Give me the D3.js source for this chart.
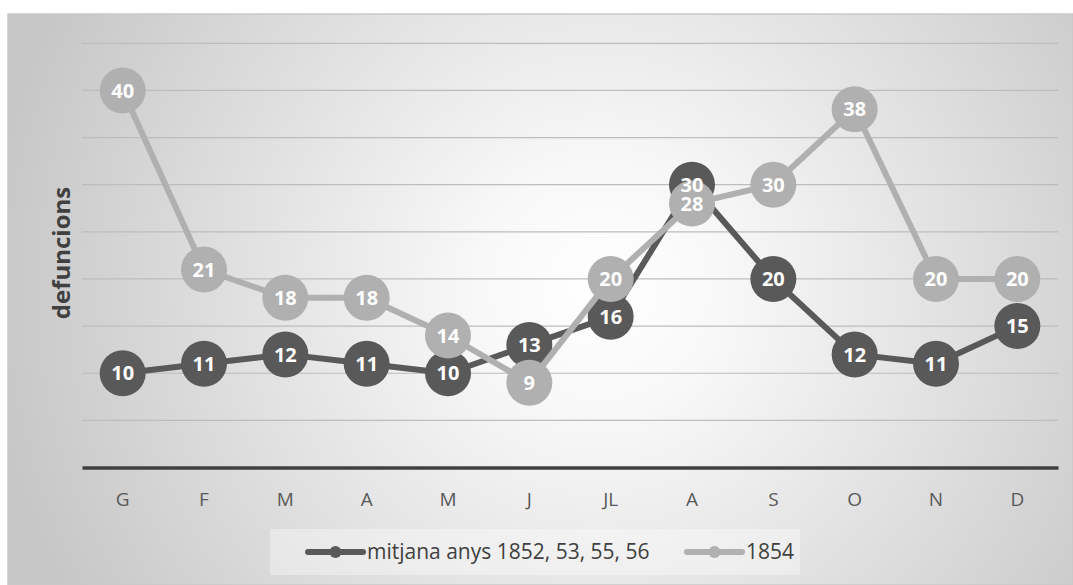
<!DOCTYPE html>
<html>
<head>
<meta charset="utf-8">
<script src="https://cdn.jsdelivr.net/npm/d3@7"></script>
<style>
  body { margin: 0; background: #fff; }
  svg { display: block; }
  text { font-family: "Open Sans", "Liberation Sans", sans-serif; }
</style>
</head>
<body>
<svg id="viz" width="1073" height="585"></svg>
<script>
"use strict";
// months (Catalan initials)
const months = ["G", "F", "M", "A", "M", "J", "JL", "A", "S", "O", "N", "D"];
const mitjana = [10, 11, 12, 11, 10, 13, 16, 30, 20, 12, 11, 15];
const any1854 = [40, 21, 18, 18, 14, 9, 20, 28, 30, 38, 20, 20];
const gridTicks = [5, 10, 15, 20, 25, 30, 35, 40, 45];
const seriesNames = ["mitjana anys 1852, 53, 55, 56", "1854"];

const svg = d3.select("#viz");
const w = 1073, h = 585;
const margin = { top: 43.3, left: 82, bottom: 117.5, right: 15 };

// background with radial gradient
let defs = svg.append("defs");
let grad = defs.append("radialGradient")
    .attr("id", "bg")
    .attr("gradientUnits", "userSpaceOnUse")
    .attr("cx", 600).attr("cy", 290).attr("r", 620);
grad.append("stop").attr("offset", "0%").attr("stop-color", "#ffffff");
grad.append("stop").attr("offset", "20%").attr("stop-color", "#f8f8f8");
grad.append("stop").attr("offset", "100%").attr("stop-color", "#c6c6c6");

svg.append("rect")
    .attr("x", 8).attr("y", 14)
    .attr("width", w - 8).attr("height", h - 14)
    .attr("fill", "url(#bg)")
    .attr("stroke", "#c9c9c9")
    .attr("stroke-width", 1.5);

let xScale = d3.scaleBand()
    .domain(months.map((d, i) => `${i}`))
    .range([margin.left, w - margin.right]);
let yScale = d3.scaleLinear()
    .domain([0, 45])
    .range([h - margin.bottom, margin.top]);
let cx = (i) => xScale(`${i}`) + xScale.bandwidth() / 2;

// gridlines
svg.append("g").attr("class", "grid")
    .selectAll("line")
    .data(gridTicks)
    .enter().append("line")
    .attr("x1", margin.left).attr("x2", w - margin.right)
    .attr("y1", d => yScale(d)).attr("y2", d => yScale(d))
    .attr("stroke", "#bdbdbd")
    .attr("stroke-width", 1.2);

// x axis
let xAxis = d3.axisBottom(xScale)
    .tickFormat((d, i) => months[i])
    .tickSize(0)
    .tickPadding(25);
let gx = svg.append("g")
    .attr("class", "x axis")
    .attr("transform", `translate(0, ${yScale(0)})`)
    .call(xAxis);
gx.select(".domain").attr("stroke", "#404040").attr("stroke-width", 3.5);
gx.selectAll("text")
    .attr("fill", "#595959")
    .style("font-size", "19px")
    .style("font-family", "'Open Sans', sans-serif");

// y axis title
svg.append("text")
    .attr("transform", `translate(70, 253) rotate(-90)`)
    .attr("text-anchor", "middle")
    .attr("fill", "#404040")
    .style("font-size", "24px")
    .style("font-weight", "bold")
    .text("defuncions");

const colors = ["#595959", "#b0b0b0"];
const allSeries = [mitjana, any1854];

let line = d3.line()
    .x((d, i) => cx(i))
    .y(d => yScale(d));

allSeries.forEach((vals, k) => {
    svg.append("path")
        .datum(vals)
        .attr("d", line)
        .attr("fill", "none")
        .attr("stroke", colors[k])
        .attr("stroke-width", 6)
        .attr("stroke-linejoin", "round");
    svg.append("g")
        .selectAll("circle")
        .data(vals)
        .enter().append("circle")
        .attr("cx", (d, i) => cx(i))
        .attr("cy", d => yScale(d))
        .attr("r", 23)
        .attr("fill", colors[k]);
});

// data labels on top
allSeries.forEach((vals, k) => {
    svg.append("g")
        .selectAll("text")
        .data(vals)
        .enter().append("text")
        .attr("x", (d, i) => cx(i))
        .attr("y", d => yScale(d))
        .attr("dy", "0.36em")
        .attr("text-anchor", "middle")
        .attr("fill", "#ffffff")
        .style("font-size", "20px")
        .style("font-weight", "bold")
        .text(d => d);
});

// legend
let lg = svg.append("g").attr("class", "legend");
lg.append("rect")
    .attr("x", 270).attr("y", 529)
    .attr("width", 530).attr("height", 46)
    .attr("fill", "#ffffff").attr("fill-opacity", 0.35);
const legendX = [308, 687];
seriesNames.forEach((name, k) => {
    let g = lg.append("g").attr("transform", `translate(${legendX[k]}, 552)`);
    g.append("line")
        .attr("x1", 0).attr("x2", 55)
        .attr("stroke", colors[k]).attr("stroke-width", 6)
        .attr("stroke-linecap", "round");
    g.append("circle").attr("cx", 27.5).attr("r", 6).attr("fill", colors[k]);
    g.append("text")
        .attr("x", 59).attr("dy", "0.35em")
        .attr("fill", "#404040")
        .style("font-size", "21px")
        .text(name);
});
</script>
</body>
</html>
